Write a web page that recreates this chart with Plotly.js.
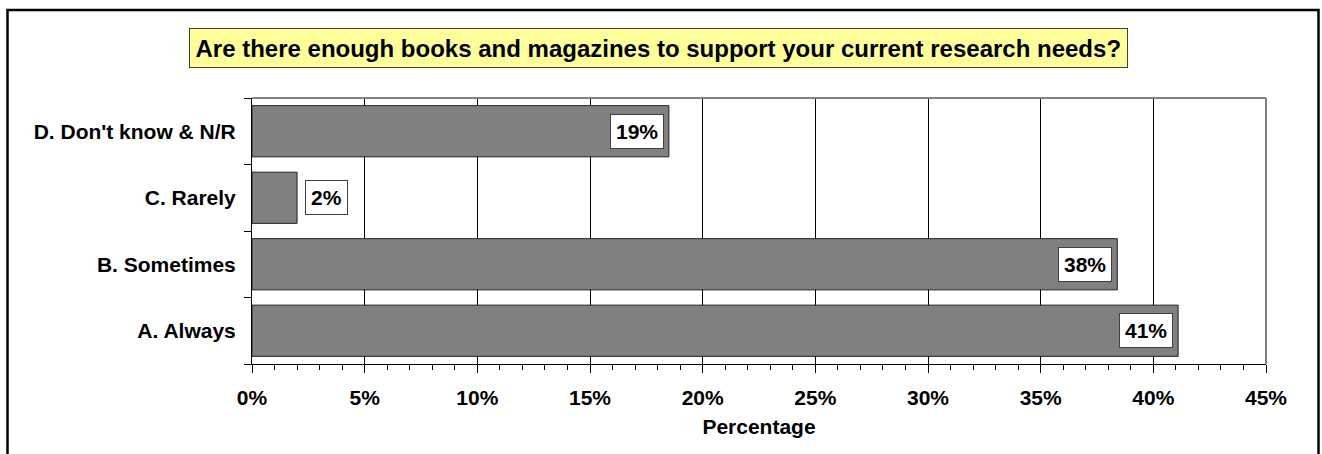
<!DOCTYPE html>
<html>
<head>
<meta charset="utf-8">
<script src="https://cdn.plot.ly/plotly-3.0.1.min.js"></script>
<style>
html,body{margin:0;padding:0;background:#fff;}
#chart{width:1322px;height:454px;}
</style>
</head>
<body>
<div id="chart"></div>
<script>
// ---- data ----
var categories = ["A. Always", "B. Sometimes", "C. Rarely", "D. Don't know & N/R"];
var percentages = [41.1, 38.4, 2.0, 18.5];
var xTickValues = [0, 5, 10, 15, 20, 25, 30, 35, 40, 45];
var chartTitle = "Are there enough books and magazines to support your current research needs?";
var xAxisTitle = "Percentage";

// ---- layout constants ----
var W = 1322, H = 454;
var M = {l: 252, r: 56, t: 98, b: 90};
var plotW = W - M.l - M.r, plotH = H - M.t - M.b;
var FONT = "Arial, 'Liberation Sans', sans-serif";
function px2x(px){ return (px - M.l) / plotW; }
function px2y(py){ return (H - M.b - py) / plotH; }

var labels = percentages.map(function(v){ return Math.round(v) + "%"; });

var annotations = percentages.map(function(v, i){
  var inside = v >= 5;
  return {
    x: v, y: categories[i], xref: 'x', yref: 'y',
    text: labels[i], showarrow: false,
    xanchor: inside ? 'right' : 'left',
    xshift: inside ? -5 : 8,
    yanchor: 'middle',
    font: {family: FONT, size: 21, color: '#000', weight: 'bold'},
    bgcolor: '#ffffff', bordercolor: '#404040', borderwidth: 1, borderpad: 5
  };
});

annotations.push({
  xref: 'paper', yref: 'paper', x: px2x(658.5), y: px2y(48),
  xanchor: 'center', yanchor: 'middle', showarrow: false,
  text: chartTitle,
  font: {family: FONT, size: 24, color: '#000', weight: 'bold'},
  bgcolor: '#ffff99', bordercolor: '#404040', borderwidth: 1, borderpad: 5.5
});

var trace = {
  type: 'bar', orientation: 'h',
  x: percentages, y: categories,
  marker: {color: '#808080', line: {color: '#202020', width: 1}},
  hoverinfo: 'none'
};

var layout = {
  width: W, height: H,
  margin: M,
  paper_bgcolor: '#ffffff', plot_bgcolor: '#ffffff',
  showlegend: false,
  bargap: 0.23,
  font: {family: FONT, size: 21, color: '#000'},
  xaxis: {
    range: [0, 45], tickvals: xTickValues, ticktext: xTickValues.map(function(v){return v + '%';}),
    showgrid: true, gridcolor: '#000', gridwidth: 1,
    showline: true, linecolor: '#000', linewidth: 1,
    ticks: 'outside', ticklen: 8, tickcolor: '#000', tickwidth: 1,
    tickfont: {family: FONT, size: 21, color: '#000', weight: 'bold'},
    ticklabelstandoff: 7,
    zeroline: false,
    minor: {dtick: 1, tick0: 0, ticks: 'outside', ticklen: 5, tickcolor: '#000', showgrid: false},
    title: {text: xAxisTitle, font: {family: FONT, size: 21, color: '#000', weight: 'bold'}, standoff: 11},
    fixedrange: true
  },
  yaxis: {
    type: 'category', categoryorder: 'array', categoryarray: categories,
    showgrid: false, showline: true, linecolor: '#000', linewidth: 1,
    ticks: 'outside', ticklen: 7, tickcolor: '#000', tickson: 'boundaries',
    tickfont: {family: FONT, size: 21, color: '#000', weight: 'bold'},
    ticklabelstandoff: 11,
    zeroline: false, fixedrange: true
  },
  shapes: [
    {type: 'line', xref: 'paper', yref: 'paper', x0: 0, x1: 1, y0: 1, y1: 1, line: {color: '#808080', width: 2}, layer: 'above'},
    {type: 'line', xref: 'paper', yref: 'paper', x0: 1, x1: 1, y0: 0, y1: 1, line: {color: '#808080', width: 2}, layer: 'above'},
    {type: 'path', xref: 'paper', yref: 'paper', layer: 'above',
     path: 'M ' + px2x(7.5) + ' ' + px2y(470) + ' L ' + px2x(7.5) + ' ' + px2y(10) + ' L ' + px2x(1318.5) + ' ' + px2y(10) + ' L ' + px2x(1318.5) + ' ' + px2y(470),
     line: {color: '#000', width: 2.5}}
  ],
  annotations: annotations
};

Plotly.newPlot('chart', [trace], layout, {displayModeBar: false, staticPlot: true});
</script>
</body>
</html>
